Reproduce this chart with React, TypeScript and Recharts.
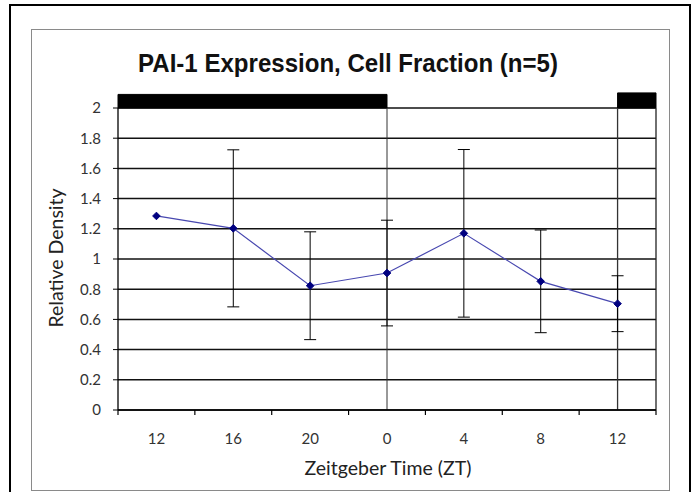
import React from 'react';
import {
  LineChart,
  Line,
  XAxis,
  YAxis,
  CartesianGrid,
  ErrorBar,
  ReferenceLine,
  ReferenceArea,
} from 'recharts';

const categories = ['12', '16', '20', '0', '4', '8', '12'];
const density = [1.285, 1.203, 0.823, 0.907, 1.17, 0.852, 0.704];
const sem = [null, 0.52, 0.357, 0.35, 0.555, 0.34, 0.185];
const yTicks = [0, 0.2, 0.4, 0.6, 0.8, 1, 1.2, 1.4, 1.6, 1.8, 2];
const xTicks = [-0.5, 0, 0.5, 1, 1.5, 2, 2.5, 3, 3.5, 4, 4.5, 5, 5.5, 6, 6.5];

const data = categories.map((c, i) => ({ x: i, label: c, density: density[i], err: sem[i] }));

const FONT = 'Lato, "Open Sans", sans-serif';

const XTick = (props: any) => {
  const { x, y, payload } = props;
  const v = payload.value;
  if (Number.isInteger(v)) {
    return (
      <text x={x} y={y + 28} textAnchor="middle" dominantBaseline="central" fill="#333" fontSize={15} fontFamily={FONT}>
        {categories[v]}
      </text>
    );
  }
  return <line x1={x} x2={x} y1={y} y2={y + 5} stroke="#000" strokeWidth={1.2} />;
};

const Diamond = (props: any) => {
  const { cx, cy } = props;
  if (cx == null || cy == null) return null;
  const r = 3.8;
  return (
    <polygon
      points={`${cx},${cy - r} ${cx + r},${cy} ${cx},${cy + r} ${cx - r},${cy}`}
      fill="#000080"
      stroke="#000080"
    />
  );
};

export default function App() {
  return (
    <div style={{ position: 'relative', width: 696, height: 492, background: '#fff', overflow: 'hidden' }}>
      <style>{`body{margin:0}`}</style>
      <div
        style={{
          position: 'absolute',
          left: 9,
          top: 4,
          width: 678,
          height: 500,
          borderTop: '2.5px solid #000',
          borderLeft: '2.5px solid #000',
          borderRight: '2.5px solid #000',
        }}
      />
      <div
        style={{
          position: 'absolute',
          left: 31,
          top: 29,
          width: 637,
          height: 460,
          border: '1.3px solid #8a8a8a',
        }}
      />
      <div style={{ position: 'absolute', left: 0, top: 0 }}>
        <LineChart width={696} height={492} data={data} margin={{ top: 108, right: 40, bottom: 32, left: 58 }}>
          <text
            x={348}
            y={72}
            textAnchor="middle"
            fontSize={25}
            fontWeight="bold"
            fontFamily='"Liberation Sans", Arial, sans-serif'
            fill="#111"
            textLength={420}
            lengthAdjust="spacingAndGlyphs"
          >
            PAI-1 Expression, Cell Fraction (n=5)
          </text>
          <CartesianGrid vertical={false} stroke="#111" strokeWidth={1.5} />
          <XAxis
            dataKey="x"
            type="number"
            domain={[-0.5, 6.5]}
            ticks={xTicks}
            interval={0}
            tick={<XTick />}
            tickLine={false}
            tickSize={0}
            tickMargin={0}
            height={50}
            axisLine={{ stroke: '#000', strokeWidth: 1.3 }}
          />
          <YAxis
            type="number"
            domain={[0, 2]}
            ticks={yTicks}
            interval={0}
            width={60}
            tickSize={5}
            tickMargin={12}
            tick={{ fill: '#333', fontSize: 15, fontFamily: FONT }}
            tickLine={{ stroke: '#000' }}
            axisLine={{ stroke: '#000', strokeWidth: 1.3 }}
          />
          <ReferenceArea x1={-0.5} x2={3} y1={2} y2={2.09} ifOverflow="visible" fill="#000" fillOpacity={1} stroke="#000" />
          <ReferenceArea x1={6} x2={6.5} y1={2} y2={2.1} ifOverflow="visible" fill="#000" fillOpacity={1} stroke="#000" />
          <ReferenceLine x={3} stroke="#333" strokeWidth={1} />
          <ReferenceLine x={6} stroke="#333" strokeWidth={1.3} />
          <ReferenceLine x={6.5} stroke="#222" strokeWidth={1.3} />
          <Line
            dataKey="density"
            stroke="#4848b0"
            strokeWidth={1.2}
            dot={<Diamond />}
            isAnimationActive={false}
          >
            <ErrorBar dataKey="err" width={6} stroke="#000" strokeWidth={1} />
          </Line>
          <text
            x={55}
            y={258}
            transform="rotate(-90 55 258)"
            textAnchor="middle"
            dominantBaseline="central"
            fontSize={19.5}
            fontFamily={FONT}
            fill="#222"
          >
            Relative Density
          </text>
          <text x={388} y={467} textAnchor="middle" dominantBaseline="central" fontSize={19.5} fontFamily={FONT} fill="#222">
            Zeitgeber Time (ZT)
          </text>
        </LineChart>
      </div>
    </div>
  );
}
